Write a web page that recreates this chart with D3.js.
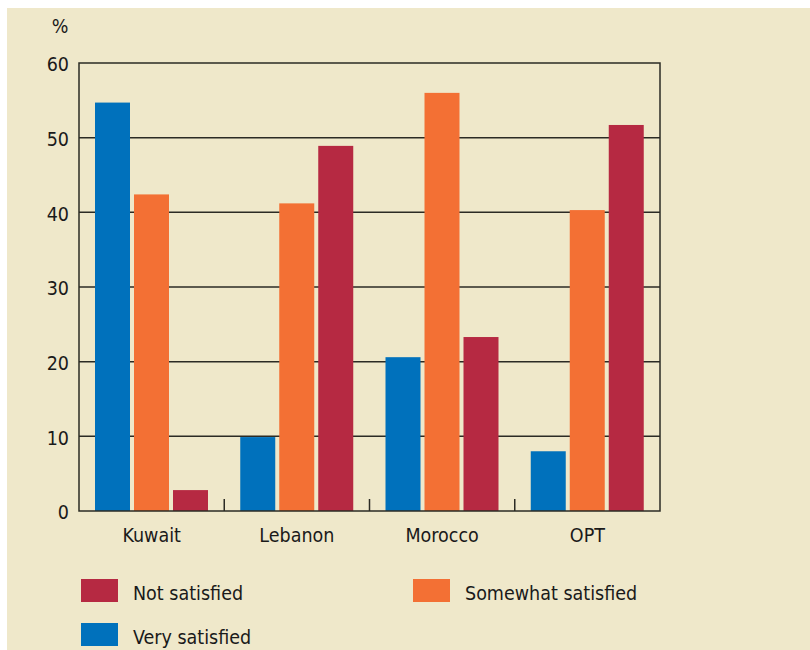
<!DOCTYPE html>
<html>
<head>
<meta charset="utf-8">
<script src="https://cdn.jsdelivr.net/npm/d3@7/dist/d3.min.js"></script>
<style>
  html, body { margin: 0; padding: 0; background: #ffffff; }
  svg { display: block; }
  text { font-family: "Liberation Sans Narrow", "DejaVu Sans Condensed", sans-serif; fill: #1a1a1a; }
</style>
</head>
<body>
<svg id="chart" width="810" height="650"></svg>
<script>
const categories = ["Kuwait", "Lebanon", "Morocco", "OPT"];
const seriesNames = ["Very satisfied", "Somewhat satisfied", "Not satisfied"];
const verySatisfied = [54.7, 9.9, 20.6, 8.0];
const somewhatSatisfied = [42.4, 41.2, 56.0, 40.3];
const notSatisfied = [2.8, 48.9, 23.3, 51.7];
const yTicks = [0, 10, 20, 30, 40, 50, 60];
const colors = { "Very satisfied": "#0071bc", "Somewhat satisfied": "#f37034", "Not satisfied": "#b62942" };
const legendRows = [["Not satisfied", "Somewhat satisfied"], ["Very satisfied"]];

const seriesValues = { "Very satisfied": verySatisfied, "Somewhat satisfied": somewhatSatisfied, "Not satisfied": notSatisfied };
const FONT = "Liberation Sans Narrow, DejaVu Sans Condensed, sans-serif";
const FS = 19.5;

const svg = d3.select("#chart");
// background panel
svg.append("rect").attr("x", 7).attr("y", 8).attr("width", 803).attr("height", 642).attr("fill", "#efe8ca");

const pLeft = 79, pRight = 660, pTop = 63, pBottom = 511;
const x0 = d3.scaleBand().domain(categories).range([pLeft, pRight]).padding(0);
const x1 = d3.scaleBand().domain(seriesNames).range([16, 129]).paddingInner(0.1026).paddingOuter(0);
const y = d3.scaleLinear().domain([0, 60]).range([pBottom, pTop]);

// gridlines
const grid = svg.append("g");
grid.selectAll("line").data(yTicks.filter(t => t > 0 && t < 60)).join("line")
  .attr("x1", pLeft).attr("x2", pRight)
  .attr("y1", d => y(d)).attr("y2", d => y(d))
  .attr("stroke", "#2b2b24").attr("stroke-width", 1.5);

// bars
const groups = svg.append("g").selectAll("g").data(categories).join("g")
  .attr("transform", d => `translate(${x0(d)},0)`);
groups.selectAll("rect").data((c, i) => seriesNames.map(s => ({ s, v: seriesValues[s][i] }))).join("rect")
  .attr("x", d => x1(d.s))
  .attr("width", x1.bandwidth())
  .attr("y", d => y(d.v))
  .attr("height", d => y(0) - y(d.v))
  .attr("fill", d => colors[d.s]);

// frame
const frame = svg.append("g").attr("stroke", "#2b2b24").attr("stroke-width", 1.5).attr("fill", "none");
frame.append("rect").attr("x", pLeft).attr("y", pTop).attr("width", pRight - pLeft).attr("height", pBottom - pTop);
// category separator ticks
frame.selectAll("line.sep").data(categories.slice(1)).join("line")
  .attr("class", "sep")
  .attr("x1", d => x0(d)).attr("x2", d => x0(d))
  .attr("y1", pBottom).attr("y2", pBottom - 12);

// y axis labels
const yAxis = d3.axisLeft(y).tickValues(yTicks).tickSize(0).tickPadding(10);
const ya = svg.append("g").attr("transform", `translate(${pLeft},0)`).call(yAxis);
ya.select(".domain").remove();
ya.selectAll("text").attr("font-family", FONT)
  .attr("font-size", FS).attr("fill", "#1a1a1a").attr("dy", "0.4em");

svg.append("text").attr("x", 60).attr("y", 33).attr("text-anchor", "middle")
  .attr("font-size", FS).text("%");

// x axis labels
const xAxis = d3.axisBottom(x0).tickSize(0).tickPadding(17);
const xa = svg.append("g").attr("transform", `translate(0,${pBottom})`).call(xAxis);
xa.select(".domain").remove();
xa.selectAll("text").attr("font-family", FONT)
  .attr("font-size", FS).attr("fill", "#1a1a1a");

// legend
const legendCols = [81, 413];
const legendYs = [579, 623];
legendRows.forEach((row, r) => {
  row.forEach((name, c) => {
    const g = svg.append("g").attr("transform", `translate(${legendCols[c]},${legendYs[r]})`);
    g.append("rect").attr("width", 37).attr("height", 23).attr("fill", colors[name]);
    g.append("text").attr("x", 52).attr("y", 21).attr("font-size", FS).text(name);
  });
});
</script>
</body>
</html>
